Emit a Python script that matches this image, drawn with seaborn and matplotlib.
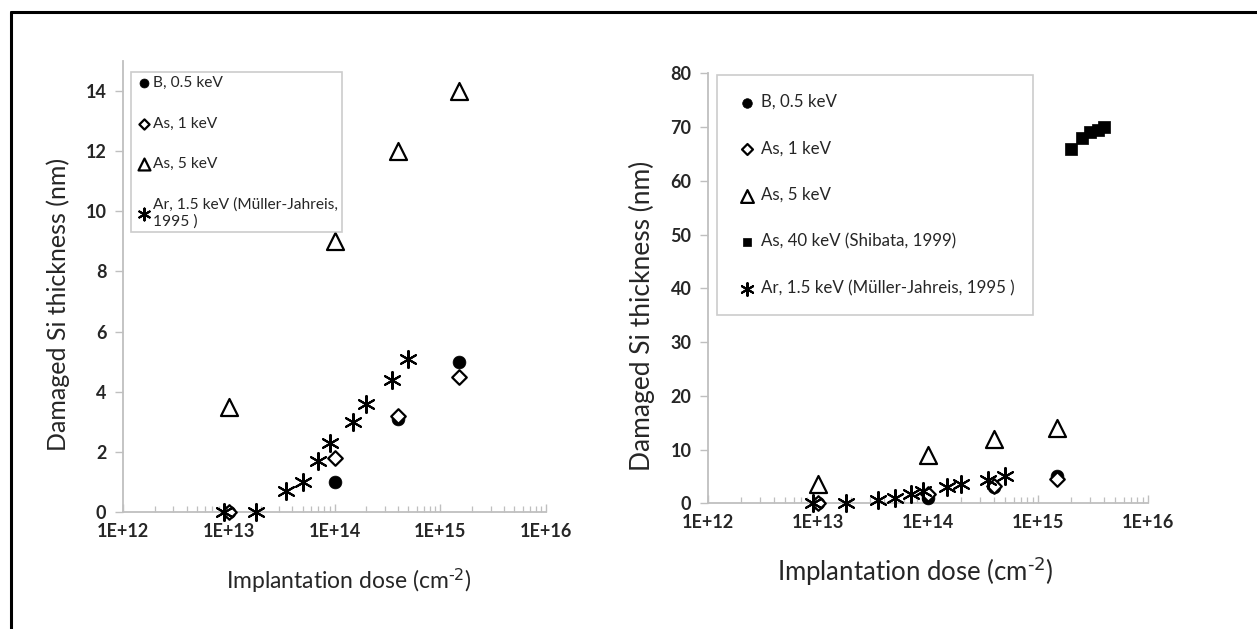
import numpy as np
import pandas as pd
import matplotlib
matplotlib.use("Agg")
import matplotlib.pyplot as plt
import matplotlib.ticker as mticker
import seaborn as sns

sns.set_theme(style="white")
plt.rcParams['font.family'] = ['Lato', 'DejaVu Sans']
plt.rcParams['mathtext.default'] = 'regular'

# ---------------- data ----------------
b05_dose = [1e13, 1e14, 4e14, 1.5e15]
b05_thk = [0.0, 1.0, 3.1, 5.0]

as1_dose = [1e13, 1e14, 4e14, 1.5e15]
as1_thk = [0.0, 1.8, 3.2, 4.5]

as5_dose = [1e13, 1e14, 4e14, 1.5e15]
as5_thk = [3.5, 9.0, 12.0, 14.0]

as40_dose = [2e15, 2.5e15, 3e15, 3.5e15, 4e15]
as40_thk = [66.0, 68.0, 69.0, 69.5, 70.0]

ar15_dose = [9e12, 1.8e13, 3.5e13, 5e13, 7e13, 9e13, 1.5e14, 2e14, 3.5e14, 5e14]
ar15_thk = [0.0, 0.0, 0.7, 1.0, 1.7, 2.3, 3.0, 3.6, 4.4, 5.1]

x_ticks = [1e12, 1e13, 1e14, 1e15, 1e16]
x_ticklabels = ["1E+12", "1E+13", "1E+14", "1E+15", "1E+16"]
left_yticks = [0, 2, 4, 6, 8, 10, 12, 14]
right_yticks = [0, 10, 20, 30, 40, 50, 60, 70, 80]

lab_b = "B, 0.5 keV"
lab_as1 = "As, 1 keV"
lab_as5 = "As, 5 keV"
lab_as40 = "As, 40 keV (Shibata, 1999)"
lab_ar_left = "Ar, 1.5 keV (Müller-Jahreis,\n1995 )"
lab_ar_right = "Ar, 1.5 keV (Müller-Jahreis, 1995 )"

ylabel = "Damaged Si thickness (nm)"
xlabel = "Implantation dose (cm$^{\\text{-2}}$)"

# ---------------- figure ----------------
fig = plt.figure(figsize=(12.57, 6.29), dpi=100)
fig.patch.set_facecolor("white")
fig.add_artist(plt.Line2D([11/1257, 1.0], [1 - 12/629, 1 - 12/629], color="black", lw=2.2, transform=fig.transFigure))
fig.add_artist(plt.Line2D([11/1257, 11/1257], [0.0, 1 - 12/629], color="black", lw=2.2, transform=fig.transFigure))

axL = fig.add_axes([123/1257, 1 - 512/629, 423/1257, 451/629])
axR = fig.add_axes([708/1257, 1 - 503.3/629, 440/1257, 430/629])

AST = (6, 2, 0)
grey = "#bfbfbf"
txt = "#262626"


def draw(ax, series):
    for dose, thk, marker, filled, size, lab in series:
        df = pd.DataFrame({"dose": dose, "thk": thk})
        if marker == AST:
            sns.scatterplot(data=df, x="dose", y="thk", ax=ax, marker=marker,
                            s=size, color="black", edgecolor="black",
                            linewidth=1.5, label=lab, clip_on=False, zorder=3)
        else:
            sns.scatterplot(data=df, x="dose", y="thk", ax=ax, marker=marker,
                            s=size,
                            facecolor="black" if filled else "white",
                            edgecolor="black", linewidth=1.6 if not filled else 0.5,
                            label=lab, clip_on=False, zorder=3)


def style_axes(ax, ymax, yticks, tick_fs):
    ax.set_xscale("log")
    ax.set_xlim(1e12, 1e16)
    ax.set_ylim(0, ymax)
    ax.set_xticks(x_ticks)
    ax.set_xticklabels(x_ticklabels)
    ax.xaxis.set_minor_locator(mticker.LogLocator(base=10, subs=np.arange(2, 10)))
    ax.xaxis.set_minor_formatter(mticker.NullFormatter())
    ax.set_yticks(yticks)
    for s in ["top", "right"]:
        ax.spines[s].set_visible(False)
    for s in ["left", "bottom"]:
        ax.spines[s].set_color(grey)
        ax.spines[s].set_linewidth(1.3)
    ax.tick_params(axis="x", which="major", direction="in", length=6, color=grey, width=1.0, pad=8,
                   labelsize=tick_fs, bottom=True)
    ax.tick_params(axis="x", which="minor", direction="in", length=4, color=grey, width=0.9, bottom=True)
    ax.tick_params(axis="y", which="major", direction="out", length=6, color=grey, width=1.0, pad=6,
                   labelsize=tick_fs, left=True)
    for t in ax.get_xticklabels() + ax.get_yticklabels():
        t.set_fontweight("bold")
        t.set_color(txt)
    ax.set_facecolor("white")
    ax.grid(False)


# left panel
left_series = [
    (b05_dose, b05_thk, "o", True, 85, lab_b),
    (as1_dose, as1_thk, "D", False, 55, lab_as1),
    (as5_dose, as5_thk, "^", False, 150, lab_as5),
    (ar15_dose, ar15_thk, AST, True, 150, lab_ar_left),
]
draw(axL, left_series)
style_axes(axL, 15, left_yticks, 13)
axL.set_ylabel(ylabel, fontsize=18, color=txt)
axL.set_xlabel(xlabel, fontsize=16.5, color=txt)
axL.yaxis.set_label_coords(-0.125, 0.46)
axL.xaxis.set_label_coords(0.535, -0.12)
legL = axL.legend(loc="upper left", bbox_to_anchor=(0.018, 0.975), frameon=True, fancybox=False,
                  edgecolor=grey, fontsize=11.2, handletextpad=0.0, labelspacing=1.7,
                  borderpad=0.25, handlelength=1.2, markerscale=0.7, borderaxespad=0)
legL.get_frame().set_linewidth(1.2)

# right panel
right_series = [
    (b05_dose, b05_thk, "o", True, 85, lab_b),
    (as1_dose, as1_thk, "D", False, 55, lab_as1),
    (as5_dose, as5_thk, "^", False, 150, lab_as5),
    (as40_dose, as40_thk, "s", True, 70, lab_as40),
    (ar15_dose, ar15_thk, AST, True, 150, lab_ar_right),
]
draw(axR, right_series)
style_axes(axR, 80, right_yticks, 13)
axR.set_ylabel(ylabel, fontsize=19, color=txt)
axR.set_xlabel(xlabel, fontsize=18.5, color=txt)
axR.yaxis.set_label_coords(-0.12, 0.435)
axR.xaxis.set_label_coords(0.47, -0.12)
legR = axR.legend(loc="upper left", bbox_to_anchor=(0.02, 0.995), frameon=True, fancybox=False,
                  edgecolor=grey, fontsize=12.2, handletextpad=0.1, labelspacing=1.8,
                  borderpad=1.1, handlelength=1.4, markerscale=0.75, borderaxespad=0)
legR.get_frame().set_linewidth(1.2)

fig.savefig("out.png", dpi=100, facecolor="white")
